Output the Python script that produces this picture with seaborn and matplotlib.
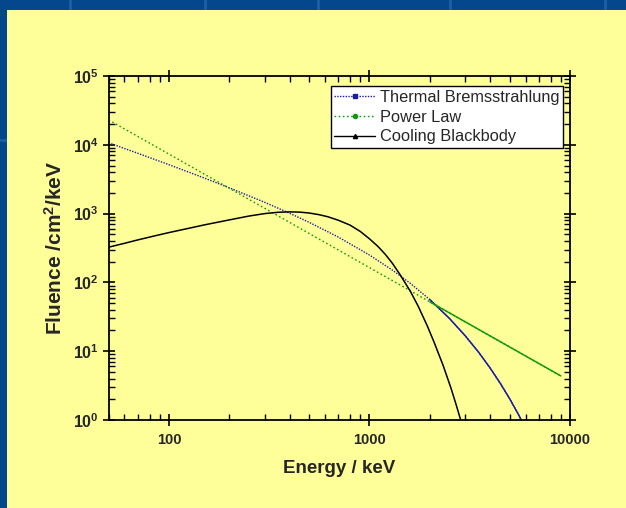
import matplotlib
matplotlib.use("Agg")
import numpy as np
import pandas as pd
import matplotlib.pyplot as plt
import seaborn as sns
from matplotlib.lines import Line2D
from matplotlib.patches import Rectangle
from matplotlib.ticker import FixedLocator, FuncFormatter, NullFormatter

# ---------------- data ----------------
series_names = ["Thermal Bremsstrahlung", "Power Law", "Cooling Blackbody"]

tb_energy = [50, 70, 100, 150, 200, 300, 400, 500, 700, 1000, 1300, 1600,
             2000, 2500, 3000, 3500, 4000, 4500, 5000, 5500, 6000]
tb_fluence = [10700, 7520, 5140, 3290, 2370, 1460, 1011, 747, 455, 250, 151, 96.7,
              56.2, 30.1, 16.8, 9.68, 5.67, 3.38, 2.04, 1.24, 0.76]

pl_energy = [50, 200, 1000, 2000, 9000]
pl_fluence = [23000, 2334, 164, 52.2, 4.37]

bb_energy = [50, 60, 70, 85, 100, 125, 150, 200, 250, 300, 350, 400, 450, 500,
             560, 620, 700, 800, 900, 1000, 1100, 1200, 1300, 1420, 1600, 1750,
             1940, 2100, 2330, 2550, 2700, 2850, 2950]
bb_fluence = [325, 370, 415, 475, 530, 610, 685, 810, 920, 1000, 1045, 1060, 1050, 1020,
              965, 900, 800, 680, 550, 430, 335, 255, 190, 130, 74, 45,
              23.5, 13.5, 6.2, 2.9, 1.7, 1.0, 0.71]

x_ticks = [100, 1000, 10000]
x_tick_labels = ["100", "1000", "10000"]
y_ticks = [1, 10, 100, 1000, 10000, 100000]
x_label = "Energy / keV"
y_label = r"Fluence /cm$^{\mathbf{2}}$/keV"

# ---------------- style ----------------
sns.set_theme(style="ticks")
plt.rcParams["font.family"] = ["Liberation Sans", "DejaVu Sans"]
plt.rcParams["mathtext.fontset"] = "custom"
plt.rcParams["mathtext.rm"] = "Liberation Sans"
plt.rcParams["mathtext.bf"] = "Liberation Sans:bold"
plt.rcParams["mathtext.it"] = "Liberation Sans:italic"

BLUE = "#1a1aa8"
GREEN = "#119911"
BLACK = "#000000"
PANEL = "#ffff99"
BG = "#04478c"

W, H = 626, 508
fig = plt.figure(figsize=(W / 100, H / 100), dpi=100, facecolor=BG)

# decorative background texture lines and yellow panel
for xv in [70, 205, 318, 450, 605]:
    fig.add_artist(Line2D([xv / W, xv / W], [1 - 10 / H, 1], color="#1d5fa3", lw=2, zorder=-3))
fig.add_artist(Line2D([0, 7 / W], [1 - 140 / H, 1 - 140 / H], color="#1d5fa3", lw=2, zorder=-3))
fig.add_artist(Rectangle((7 / W, 0), 1 - 7 / W, 1 - 10 / H, transform=fig.transFigure,
                         facecolor=PANEL, edgecolor="none", zorder=-2))

ax = fig.add_axes([108.6 / W, 88 / H, (570 - 108.6) / W, (420 - 76) / H])
ax.set_facecolor(PANEL)

tb = pd.DataFrame({"E": tb_energy, "F": tb_fluence})
pl = pd.DataFrame({"E": pl_energy, "F": pl_fluence})
bb = pd.DataFrame({"E": bb_energy, "F": bb_fluence})

split = 2000
sns.lineplot(data=tb, x="E", y="F", ax=ax, color=BLUE, lw=1.0, linestyle=(0, (1, 1)), sort=True)
sns.lineplot(data=tb[tb.E >= split], x="E", y="F", ax=ax, color=BLUE, lw=1.1, sort=True)
sns.lineplot(data=pl, x="E", y="F", ax=ax, color=GREEN, lw=1.0, linestyle=(0, (1.2, 1.8)), sort=True)
sns.lineplot(data=pl[pl.E >= split], x="E", y="F", ax=ax, color=GREEN, lw=1.1, sort=True)
sns.lineplot(data=bb, x="E", y="F", ax=ax, color=BLACK, lw=1.1, sort=True)

ax.set_xscale("log")
ax.set_yscale("log")
ax.set_xlim(50, 10000)
ax.set_ylim(1, 1e5)

ax.xaxis.set_major_locator(FixedLocator(x_ticks))
ax.set_xticklabels(x_tick_labels)
xminor = [m * 10 ** d for d in range(1, 4) for m in range(2, 10)]
ax.xaxis.set_minor_locator(FixedLocator([v for v in xminor if 50 <= v <= 10000]))
ax.xaxis.set_minor_formatter(NullFormatter())

ax.yaxis.set_major_locator(FixedLocator(y_ticks))
ax.yaxis.set_major_formatter(FuncFormatter(
    lambda v, p: r"$\mathbf{10^{%d}}$" % int(round(np.log10(v)))))
yminor = [m * 10 ** d for d in range(0, 5) for m in range(2, 10)]
ax.yaxis.set_minor_locator(FixedLocator(yminor))
ax.yaxis.set_minor_formatter(NullFormatter())

for s in ax.spines.values():
    s.set_linewidth(1.3)
    s.set_color("black")

ax.tick_params(which="major", direction="inout", length=8, width=1.2, color="black",
               top=True, right=True, pad=3)
ax.tick_params(which="minor", direction="in", length=4, width=1.0, color="black",
               top=True, right=True)
ax.tick_params(axis="x", which="major", pad=5, labelsize=10.5)
ax.tick_params(axis="y", which="major", labelsize=11.5)
for lab in ax.get_xticklabels() + ax.get_yticklabels():
    lab.set_fontweight("bold")

ax.set_xlabel(x_label, fontsize=13.5, fontweight="bold", labelpad=10)
ax.set_ylabel(y_label, fontsize=15, fontweight="bold", labelpad=5)

handles = [
    Line2D([0], [0], color=BLUE, lw=1.0, linestyle=(0, (1, 1)), marker="s", markersize=3),
    Line2D([0], [0], color=GREEN, lw=1.0, linestyle=(0, (1.2, 1.8)), marker="o", markersize=3),
    Line2D([0], [0], color=BLACK, lw=1.0, marker="^", markersize=3),
]
leg = ax.legend(handles, series_names, loc="upper right", bbox_to_anchor=(0.985, 0.97),
                fontsize=11.8, frameon=True, fancybox=False, framealpha=1,
                edgecolor="black", facecolor="white", borderpad=0.2, labelspacing=0.3,
                handlelength=2.5, handletextpad=0.3, borderaxespad=0, numpoints=1)
leg.get_frame().set_linewidth(1.0)

fig.savefig("out.png", dpi=100, facecolor=BG)
